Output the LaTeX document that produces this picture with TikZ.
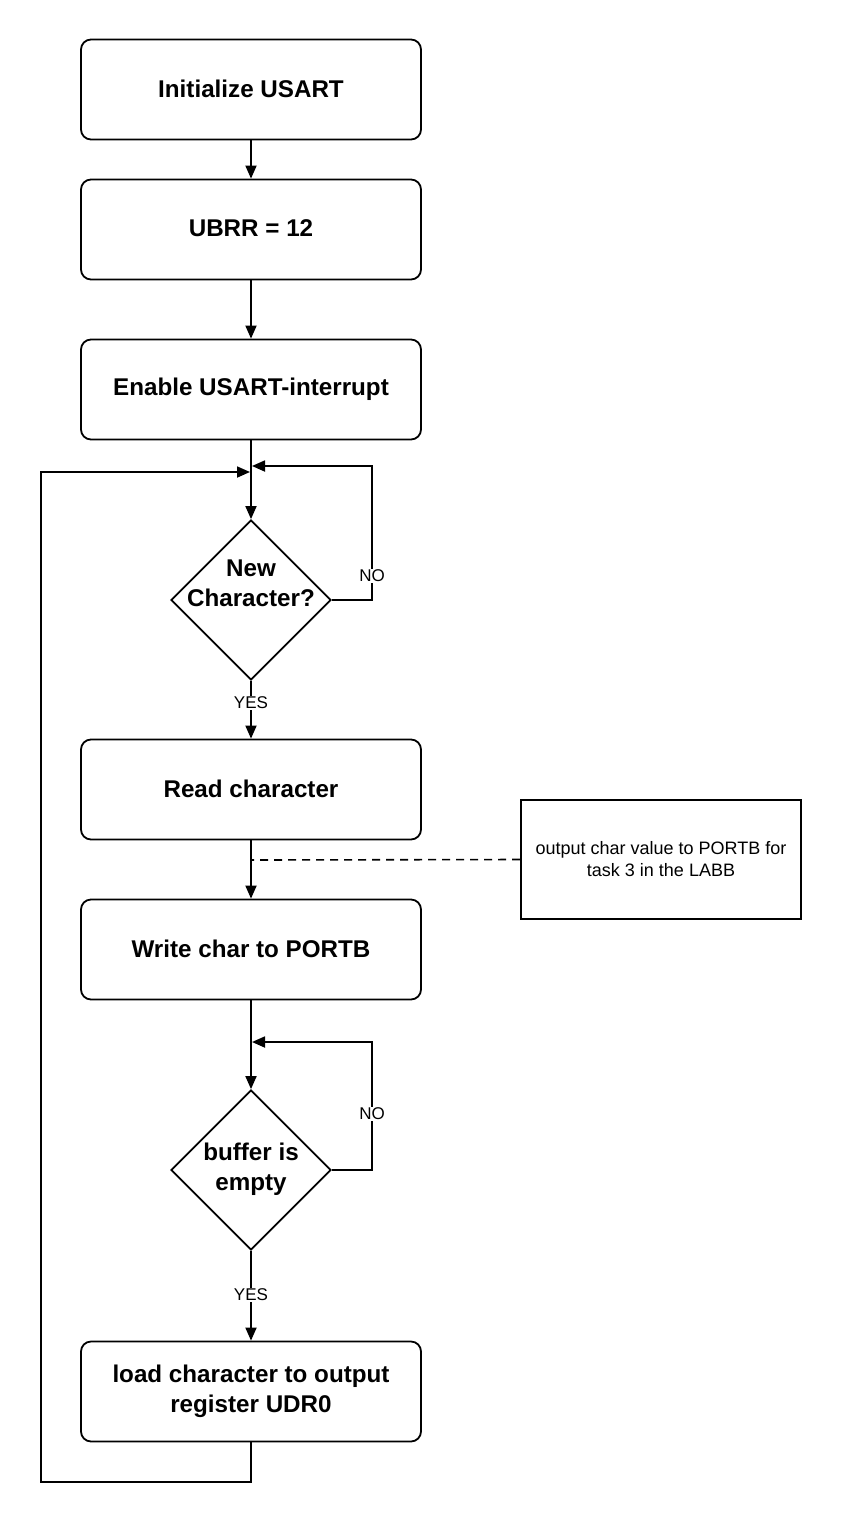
\documentclass[tikz,border=0pt]{standalone}
\usepackage{fontspec}
\setmainfont{Liberation Sans}
\usetikzlibrary{arrows.meta,shapes.geometric}
\begin{document}
\begin{tikzpicture}[x=1pt,y=-1pt,
  line width=1.8pt,
  procbox/.style={draw,rounded corners=10pt,minimum width=340pt,minimum height=100pt,inner sep=0pt,align=center,font=\bfseries\fontsize{24.2}{30}\selectfont},
  decbox/.style={draw,diamond,aspect=1,minimum size=160pt,inner sep=0pt},
  declabel/.style={align=center,font=\bfseries\fontsize{24.2}{30}\selectfont},
  arr/.style={-{Triangle[length=13pt,width=11pt]}},
  lbl/.style={fill=white,inner sep=1pt,font=\fontsize{17}{20}\selectfont},
  notebox/.style={draw,minimum width=280pt,minimum height=119pt,inner sep=0pt,align=center,line width=1.6pt,font=\fontsize{18}{22}\selectfont}]
\useasboundingbox[fill=white] (0,0) rectangle (841,1524);
\node[procbox] (init) at (251,89.5) {\raisebox{2pt}{Initialize USART}};
\node[procbox] (ubrr) at (251,229.5) {\raisebox{2pt}{UBRR = 12}};
\node[procbox] (enable) at (251,389.5) {\raisebox{2pt}{Enable USART-interrupt}};
\node[decbox] (d1) at (251,600) {};
\node[declabel] (d1t) at (251,583) {New\\Character?};
\node[procbox] (read) at (251,789.5) {\raisebox{2pt}{Read character}};
\node[procbox] (write) at (251,949.5) {\raisebox{2pt}{Write char to PORTB}};
\node[decbox] (d2) at (251,1170) {};
\node[declabel] (d2t) at (251,1169) {buffer is\\empty};
\node[procbox] (load) at (251,1391.5) {load character to output\\register UDR0};
\node[notebox] (note) at (661,859.5) {output char value to PORTB for\\task 3 in the LABB};
\coordinate (j1) at (251,466);
\coordinate (j2) at (251,472);
\coordinate (n1) at (372,466);
\coordinate (j3) at (251,1042);
\coordinate (n2) at (372,1042);
\coordinate (lb) at (41,1482);
\coordinate (lt) at (41,472);
\coordinate (dj) at (251,860);
\draw[arr] (init) -- (ubrr);
\draw[arr] (ubrr) -- (enable);
\draw[arr] (enable) -- (d1.north);
\draw[arr] (d1.south) -- node[lbl,pos=0.38] (yes1) {YES} (read.north);
\draw[arr] (read) -- (write);
\draw[arr] (write) -- (d2.north);
\draw[arr] (d2.south) -- node[lbl,pos=0.49] (yes2) {YES} (load.north);
\draw[arr] (d1.east) -| node[lbl,pos=0.59] (no1) {NO} (n1) -- ([xshift=1pt]j1);
\draw[arr] (d2.east) -| node[lbl,pos=0.72] (no2) {NO} (n2) -- ([xshift=1pt]j3);
\draw[arr] (load.south) |- (lb) -- (lt) -- ([xshift=-1pt]j2);
\draw[dashed,dash pattern=on 8pt off 6pt,line width=1.6pt] (note.west) -- (dj);
\end{tikzpicture}
\end{document}
